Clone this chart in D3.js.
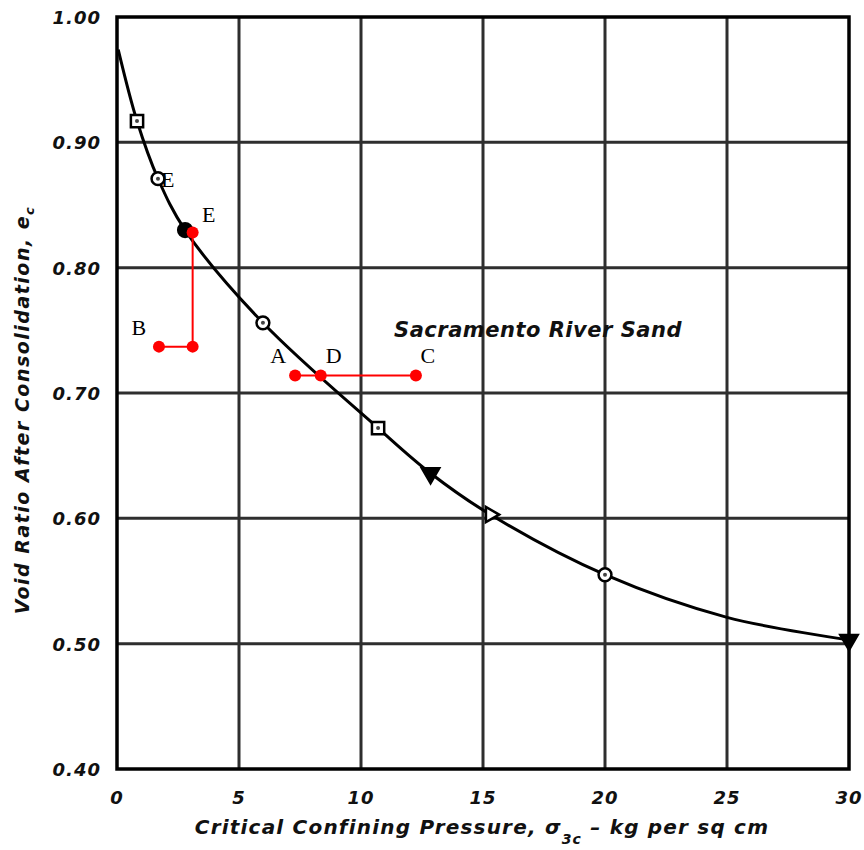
<!DOCTYPE html>
<html>
<head>
<meta charset="utf-8">
<script src="https://cdn.jsdelivr.net/npm/d3@7"></script>
<style>
  body { margin: 0; background: #fff; }
  .tick-lbl { font-family: "DejaVu Sans", sans-serif; font-weight: bold; font-style: italic; font-size: 18px; letter-spacing: 1px; fill: #111; }
  .ttl { font-family: "DejaVu Sans", sans-serif; font-weight: bold; font-style: italic; fill: #111; }
  .pt-lbl { font-family: "Liberation Serif", "Times New Roman", serif; font-size: 22px; fill: #000; }
</style>
</head>
<body>
<script>
// curva de la arena (presion critica vs relacion de vacios)
var curvaX = [0.05, 0.82, 1.68, 2.79, 5.98, 10.7, 12.85, 15.3, 20.0, 25.0, 30.0];
var curvaY = [0.974, 0.917, 0.871, 0.830, 0.756, 0.672, 0.636, 0.603, 0.555, 0.521, 0.503];

// marcadores del ensayo
var marcaX = [0.82, 10.7, 1.68, 5.98, 20.0, 2.79, 12.85, 30.0, 15.3];
var marcaY = [0.917, 0.672, 0.871, 0.756, 0.555, 0.830, 0.636, 0.503, 0.603];
var marcaTipo = ["sq", "sq", "ci", "ci", "ci", "fci", "ftri", "ftri", "tri"];

// puntos rojos
var rojoNombre = ["B", "E", "A", "D", "C"];
var rojoX = [1.72, 3.1, 7.3, 8.35, 12.25];
var rojoY = [0.737, 0.828, 0.714, 0.714, 0.714];
var esquinaX = 3.1, esquinaY = 0.737;

var ticksX = [0, 5, 10, 15, 20, 25, 30];
var ticksY = [0.40, 0.50, 0.60, 0.70, 0.80, 0.90, 1.00];

var w = 864, h = 850;
var margin = { top: 17, bottom: 81, left: 117, right: 15 };

var svg = d3.select("body").append("svg")
    .attr("width", w).attr("height", h);

var x = d3.scaleLinear().domain([0, 30]).range([margin.left, w - margin.right]);
var y = d3.scaleLinear().domain([0.4, 1.0]).range([h - margin.bottom, margin.top]);

// rejilla
svg.selectAll(".vgrid").data(ticksX.slice(1, -1)).enter().append("line")
    .attr("x1", d => x(d)).attr("x2", d => x(d))
    .attr("y1", y(1.0)).attr("y2", y(0.4))
    .attr("stroke", "#2e2e2e").attr("stroke-width", 3);
svg.selectAll(".hgrid").data(ticksY.slice(1, -1)).enter().append("line")
    .attr("x1", x(0)).attr("x2", x(30))
    .attr("y1", d => y(d)).attr("y2", d => y(d))
    .attr("stroke", "#2e2e2e").attr("stroke-width", 3);

// marco
svg.append("rect")
    .attr("x", x(0)).attr("y", y(1.0))
    .attr("width", x(30) - x(0)).attr("height", y(0.4) - y(1.0))
    .attr("fill", "none").attr("stroke", "#000").attr("stroke-width", 3.5);

// etiquetas de los ejes
svg.selectAll(".xl").data(ticksX).enter().append("text")
    .attr("class", "tick-lbl")
    .attr("x", d => x(d)).attr("y", y(0.4) + 35)
    .attr("text-anchor", "middle")
    .text(d => d);
svg.selectAll(".yl").data(ticksY).enter().append("text")
    .attr("class", "tick-lbl")
    .attr("x", x(0) - 16).attr("y", d => y(d) + 7)
    .attr("text-anchor", "end")
    .text(d => d.toFixed(2));

// titulo eje x
var tx = svg.append("text").attr("class", "ttl")
    .attr("x", 482).attr("y", 834)
    .attr("text-anchor", "middle")
    .style("font-size", "20px")
    .style("letter-spacing", "1.2px");
tx.append("tspan").text("Critical Confining Pressure, σ");
tx.append("tspan").attr("dy", 10).style("font-size", "14px").text("3c");
tx.append("tspan").attr("dy", -10).text(" – kg per sq cm");

// titulo eje y
var ty = svg.append("text").attr("class", "ttl")
    .attr("transform", "translate(29,410) rotate(-90)")
    .attr("text-anchor", "middle")
    .style("font-size", "19px")
    .style("letter-spacing", "1.5px");
ty.append("tspan").text("Void Ratio After Consolidation, e");
ty.append("tspan").attr("dy", 5).style("font-size", "13px").text("c");

// anotacion
svg.append("text").attr("class", "ttl")
    .attr("x", 538).attr("y", 337)
    .attr("text-anchor", "middle")
    .style("font-size", "21px")
    .style("letter-spacing", "0.5px")
    .text("Sacramento River Sand");

// curva
var curva = curvaX.map((d, i) => [d, curvaY[i]]);
var linea = d3.line().x(d => x(d[0])).y(d => y(d[1])).curve(d3.curveCatmullRom);
svg.append("path").datum(curva)
    .attr("d", linea)
    .attr("fill", "none").attr("stroke", "#000").attr("stroke-width", 3);

// marcadores
var marcas = marcaX.map((d, i) => ({ x: d, y: marcaY[i], t: marcaTipo[i] }));
var simb = {
  sq: d3.symbol().type(d3.symbolSquare).size(150),
  ci: d3.symbol().type(d3.symbolCircle).size(130),
  fci: d3.symbol().type(d3.symbolCircle).size(150),
  ftri: d3.symbol().type(d3.symbolTriangle).size(130),
  tri: d3.symbol().type(d3.symbolTriangle).size(100)
};
var giro = { ftri: " rotate(180)", tri: " rotate(90)" };
var g = svg.selectAll(".marca").data(marcas).enter().append("g")
    .attr("transform", d => "translate(" + x(d.x) + "," + y(d.y) + ")" + (giro[d.t] || ""));
g.append("path")
    .attr("d", d => simb[d.t]())
    .attr("fill", d => (d.t == "fci" || d.t == "ftri") ? "#000" : "#fff")
    .attr("stroke", "#000").attr("stroke-width", 2.5);
g.filter(d => d.t == "sq" || d.t == "ci").append("circle")
    .attr("r", 2).attr("fill", "#444");

// E negra junto al circulo
svg.append("text").attr("class", "pt-lbl")
    .attr("x", x(1.68) + 3).attr("y", y(0.871) + 8)
    .text("E");

// segmentos rojos
svg.append("line")
    .attr("x1", x(rojoX[0])).attr("x2", x(esquinaX))
    .attr("y1", y(rojoY[0])).attr("y2", y(esquinaY))
    .attr("stroke", "#f00").attr("stroke-width", 2);
svg.append("line")
    .attr("x1", x(esquinaX)).attr("x2", x(rojoX[1]))
    .attr("y1", y(esquinaY)).attr("y2", y(rojoY[1]))
    .attr("stroke", "#f00").attr("stroke-width", 2);
svg.append("line")
    .attr("x1", x(rojoX[2])).attr("x2", x(rojoX[4]))
    .attr("y1", y(rojoY[2])).attr("y2", y(rojoY[4]))
    .attr("stroke", "#f00").attr("stroke-width", 2);

var rojos = rojoNombre.map((d, i) => ({ n: d, x: rojoX[i], y: rojoY[i] }));
svg.selectAll(".rojo").data(rojos.concat([{ n: "", x: esquinaX, y: esquinaY }])).enter().append("circle")
    .attr("cx", d => x(d.x)).attr("cy", d => y(d.y))
    .attr("r", 6).attr("fill", "#f00");

var desp = { B: [-20, -12], E: [16, -11], A: [-17, -12], D: [13, -12], C: [12, -12] };
svg.selectAll(".rl").data(rojos).enter().append("text")
    .attr("class", "pt-lbl")
    .attr("text-anchor", "middle")
    .attr("x", d => x(d.x) + desp[d.n][0])
    .attr("y", d => y(d.y) + desp[d.n][1])
    .text(d => d.n);
</script>
</body>
</html>
